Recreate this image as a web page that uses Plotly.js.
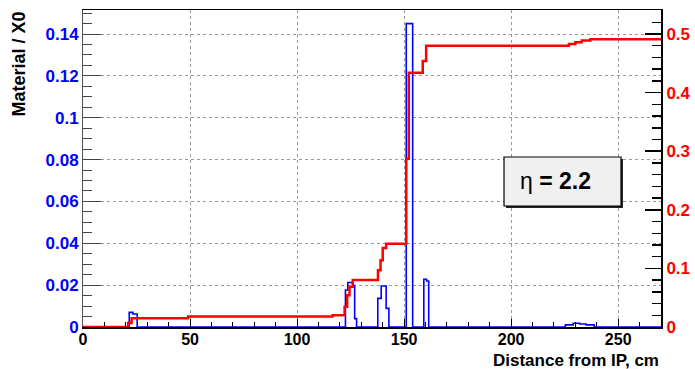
<!DOCTYPE html>
<html>
<head>
<meta charset="utf-8">
<script src="https://cdn.plot.ly/plotly-3.0.1.min.js"></script>
<style>html,body{margin:0;padding:0;background:#fff;}#chart{width:695px;height:369px;}</style>
</head>
<body>
<div id="chart"></div>
<script>
// Material per step (left axis, blue) - step histogram edges and values
var blueX = [0, 21.6, 23.3, 25.3, 122.6, 123.7, 126, 126.9, 127.8, 137.7, 139.3, 141.6, 142.9, 151, 154, 159.2, 160.5, 161.5, 225.3, 229, 232, 235, 238.8, 270];
var blueY = [0, 0.007, 0.0062, 0, 0.0177, 0.0213, 0.0198, 0.004, 0, 0.0137, 0.0196, 0.0089, 0, 0.145, 0, 0.0228, 0.022, 0, 0.001, 0.0018, 0.0014, 0.001, 0, 0];
// Cumulative material (right axis, red)
var redX = [0, 21.1, 22.7, 49.1, 116.6, 122.2, 123.4, 124.5, 126, 137.8, 139, 140, 141.6, 151, 152.2, 158.7, 160.3, 227, 230, 233, 237, 270];
var redY = [0, 0.007, 0.015, 0.018, 0.020, 0.0345, 0.054, 0.0685, 0.080, 0.097, 0.114, 0.135, 0.142, 0.287, 0.434, 0.454, 0.480, 0.483, 0.486, 0.489, 0.491, 0.491];
var xTicks = [0, 50, 100, 150, 200, 250];
var leftTicks = [0, 0.02, 0.04, 0.06, 0.08, 0.1, 0.12, 0.14];
var rightTicks = [0, 0.1, 0.2, 0.3, 0.4, 0.5];
var labelText = '\u03b7 <b>= 2.2</b>';

var FONT = 'Liberation Sans, Arial, sans-serif';

var traces = [
  {x: blueX, y: blueY, type: 'scatter', mode: 'lines', line: {shape: 'hv', color: '#0000ff', width: 1.6}, yaxis: 'y', hoverinfo: 'skip'},
  {x: redX, y: redY, type: 'scatter', mode: 'lines', line: {shape: 'hv', color: '#ff0000', width: 2.5}, yaxis: 'y2', hoverinfo: 'skip'}
];

var layout = {
  width: 695, height: 369,
  margin: {l: 83, r: 34, t: 10, b: 42, pad: 0},
  paper_bgcolor: '#ffffff', plot_bgcolor: '#ffffff',
  showlegend: false,
  font: {family: FONT, size: 17, color: '#000'},
  xaxis: {
    range: [0, 270], tickvals: xTicks, ticktext: xTicks.map(String),
    ticks: 'inside', ticklen: 8, tickwidth: 1, tickcolor: '#000',
    minor: {dtick: 10, tick0: 0, ticks: 'inside', ticklen: 5, tickcolor: '#000', showgrid: false},
    showgrid: true, gridcolor: '#999', griddash: 'dot', gridwidth: 1,
    showline: true, linecolor: '#000', linewidth: 1.5, mirror: true,
    zeroline: false, ticklabelstandoff: -3,
    tickfont: {family: FONT, size: 16, color: '#000', weight: 'bold'}
  },
  yaxis: {
    range: [0, 0.1515], tickvals: leftTicks, ticktext: leftTicks.map(String),
    ticks: 'inside', ticklen: 18, tickwidth: 1, tickcolor: '#444',
    minor: {dtick: 0.005, tick0: 0, ticks: 'inside', ticklen: 9, tickcolor: '#444', showgrid: false},
    showgrid: true, gridcolor: '#999', griddash: 'dot', gridwidth: 1,
    showline: true, linecolor: '#555', linewidth: 1,
    zeroline: false,
    tickfont: {family: FONT, size: 17, color: '#0000ff', weight: 'bold'}
  },
  yaxis2: {
    range: [0, 0.541], overlaying: 'y', side: 'right', anchor: 'x',
    tickvals: rightTicks, ticktext: rightTicks.map(String),
    ticks: 'inside', ticklen: 16, tickwidth: 1.5, tickcolor: '#000',
    minor: {dtick: 0.02, tick0: 0, ticks: 'inside', ticklen: 9, tickcolor: '#000', showgrid: false},
    showgrid: false,
    showline: true, linecolor: '#000', linewidth: 2,
    zeroline: false,
    tickfont: {family: FONT, size: 17, color: '#ff0000', weight: 'bold'}
  },
  shapes: [
    {type: 'rect', xref: 'paper', yref: 'paper', x0: 0.7318, x1: 0.9342, y0: 0.3754, y1: 0.53,
     fillcolor: '#222', line: {width: 0}, layer: 'above'},
    {type: 'rect', xref: 'paper', yref: 'paper', x0: 0.7284, x1: 0.9308, y0: 0.3817, y1: 0.5363,
     fillcolor: '#f0f0f0', line: {color: '#000', width: 1.2}, layer: 'above'}
  ],
  annotations: [
    {xref: 'paper', yref: 'paper', x: 0.818, y: 0.459, xanchor: 'center', yanchor: 'middle',
     text: labelText, showarrow: false, font: {family: FONT, size: 23, color: '#000'}},
    {xref: 'paper', yref: 'paper', x: 1, y: 0, xanchor: 'right', yanchor: 'top', yshift: -22,
     text: '<b>Distance from IP, cm</b>', showarrow: false, font: {family: FONT, size: 17, color: '#000'}},
    {xref: 'paper', yref: 'paper', x: 0, y: 1, xanchor: 'right', yanchor: 'top', xshift: -53, textangle: -90,
     text: '<b>Material / X0</b>', showarrow: false, font: {family: FONT, size: 18, color: '#000'}}
  ]
};

Plotly.newPlot('chart', traces, layout, {staticPlot: true, displayModeBar: false});
</script>
</body>
</html>
